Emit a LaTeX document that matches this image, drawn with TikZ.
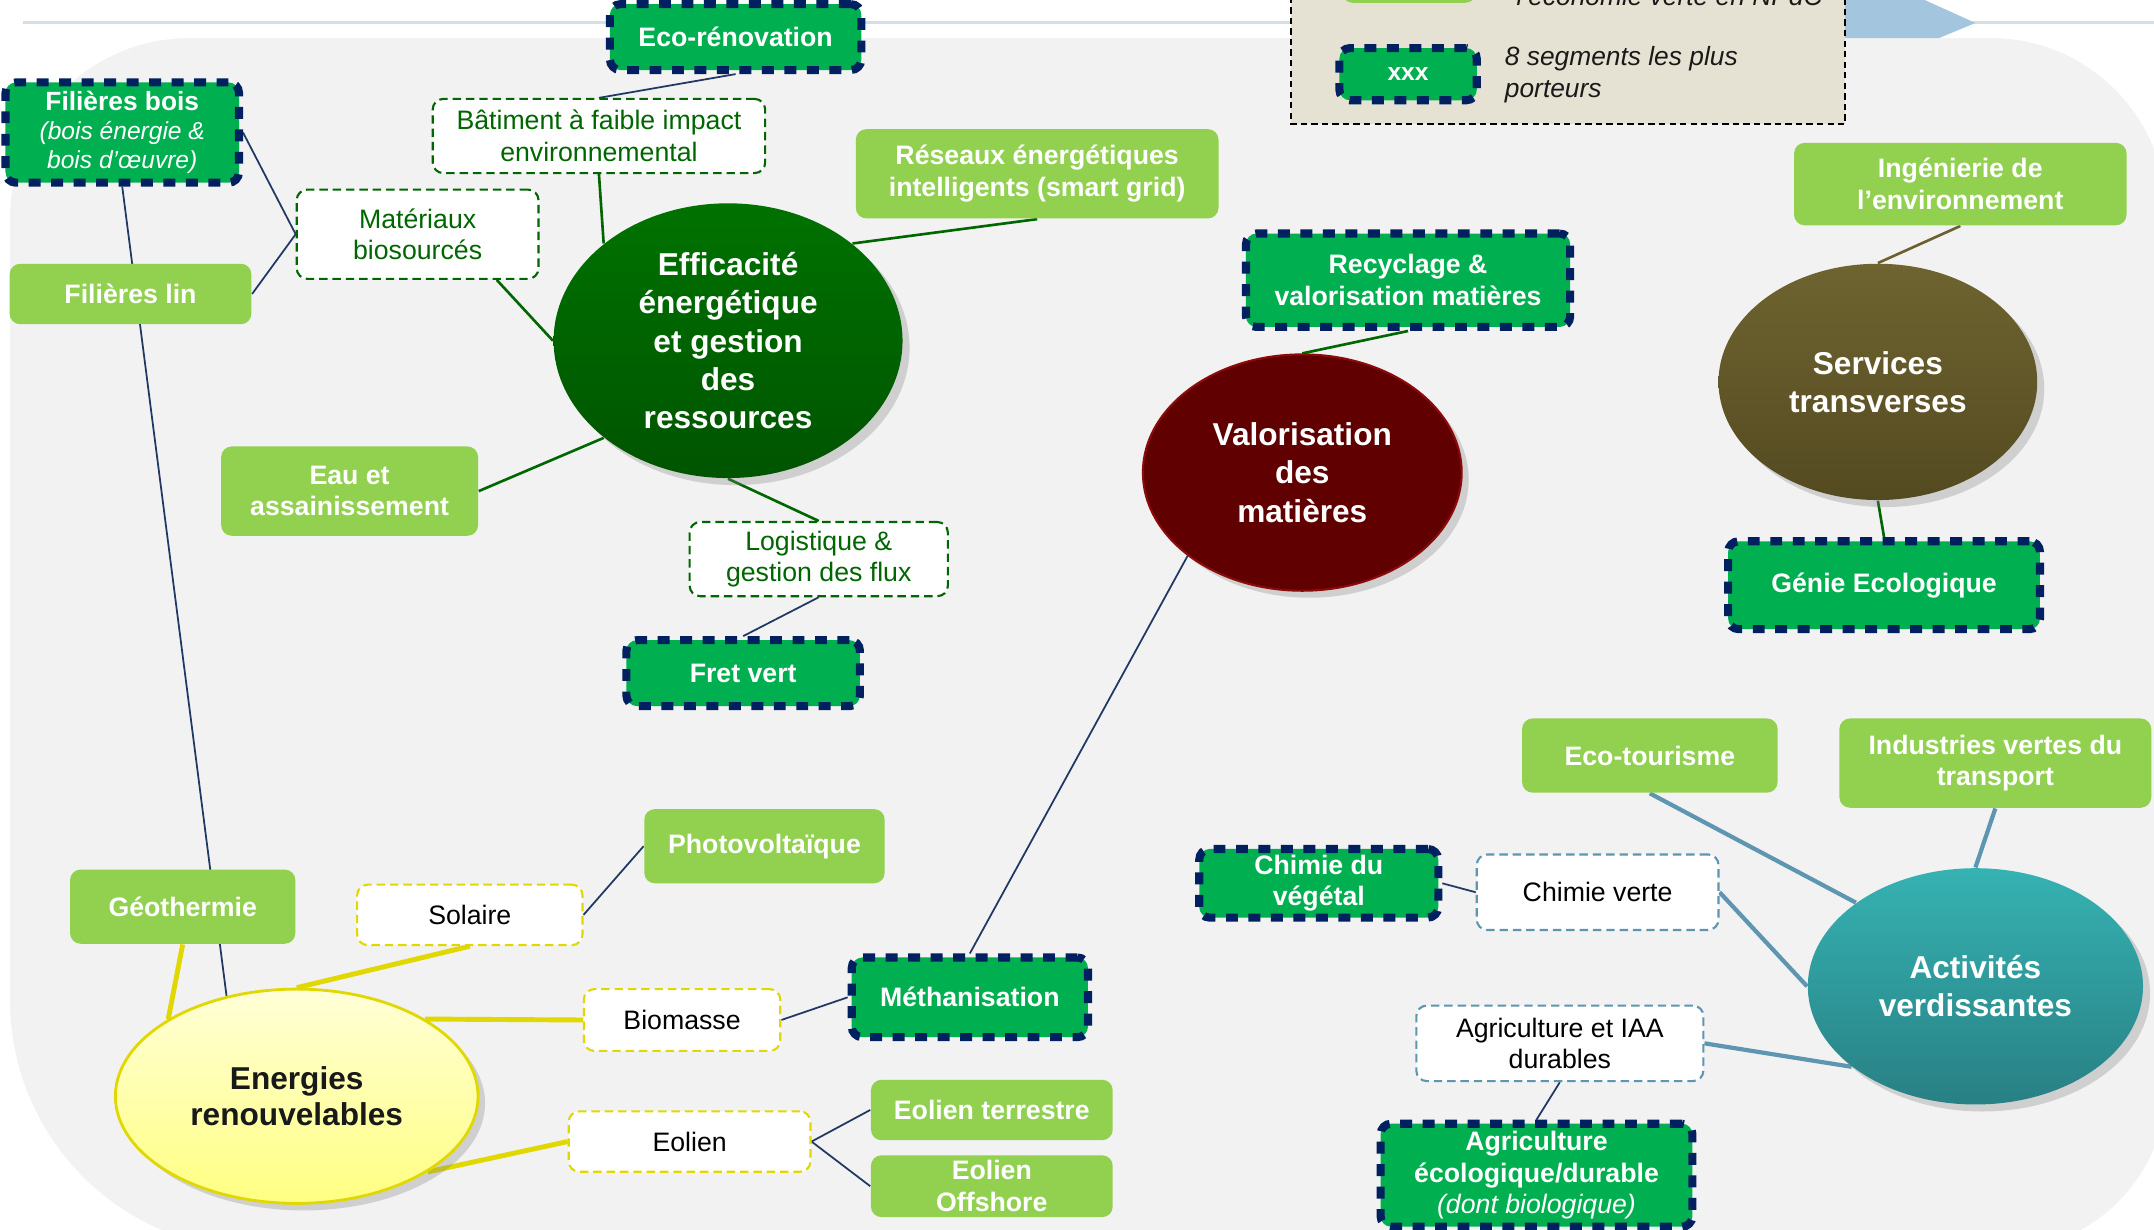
\documentclass[tikz,border=0pt]{standalone}
\usepackage{fontspec}
\setmainfont{Liberation Sans}
\usetikzlibrary{shapes.geometric,shadows}

\definecolor{bggray}{RGB}{242,242,242}
\definecolor{rulegray}{RGB}{212,223,232}
\definecolor{arrowblue}{RGB}{164,197,222}
\definecolor{legendbeige}{RGB}{230,226,211}
\definecolor{ltgreen}{RGB}{146,208,80}
\definecolor{dkgreen}{RGB}{0,176,80}
\definecolor{navy}{RGB}{0,32,96}
\definecolor{linknavy}{RGB}{31,56,100}
\definecolor{forest}{RGB}{0,102,0}
\definecolor{sunyellow}{RGB}{224,216,0}
\definecolor{steelteal}{RGB}{94,150,178}
\definecolor{oliveline}{RGB}{107,96,48}
\definecolor{effictop}{RGB}{0,114,0}
\definecolor{efficbot}{RGB}{0,84,0}
\definecolor{valorfill}{RGB}{96,0,0}
\definecolor{valordraw}{RGB}{140,10,10}
\definecolor{servtop}{RGB}{110,100,48}
\definecolor{servbot}{RGB}{84,74,33}
\definecolor{activtop}{RGB}{54,178,178}
\definecolor{activbot}{RGB}{40,128,132}
\definecolor{enrtop}{RGB}{255,255,215}
\definecolor{enrbot}{RGB}{255,255,130}

\def\ux{0.01375cm}

\pgfdeclarelayer{backdrop}
\pgfdeclarelayer{links}
\pgfsetlayers{backdrop,links,main}

\tikzset{
	sz/.style 2 args={minimum width=#1*\ux, minimum height=#2*\ux},
	lgbox/.style={rectangle, rounded corners=3pt, fill=ltgreen, text=white, inner sep=0pt,
		font=\bfseries\fontsize{7.6}{9}\selectfont, align=center},
	keybox/.style={rectangle, rounded corners=3pt, fill=dkgreen, draw=navy, line width=2.3pt,
		dash pattern=on 3.4pt off 3pt, text=white, inner sep=0pt,
		font=\bfseries\fontsize{7.6}{9}\selectfont, align=center},
	subbox/.style={rectangle, rounded corners=3pt, fill=white, line width=0.6pt,
		dash pattern=on 2.4pt off 1.4pt, inner sep=0pt,
		font=\fontsize{7.6}{9}\selectfont, align=center},
	effsub/.style={subbox, draw=forest, text=forest},
	enrsub/.style={subbox, draw=sunyellow, text=black},
	actsub/.style={subbox, draw=steelteal, text=black},
	pole/.style={ellipse, inner sep=0pt, text=white, align=center,
		font=\bfseries\fontsize{9}{10.9}\selectfont,
		drop shadow={opacity=0.3, shadow xshift=2pt, shadow yshift=-2pt}},
	navylink/.style={draw=linknavy, line width=0.5pt},
	forestlink/.style={draw=forest, line width=0.75pt},
	olivelink/.style={draw=oliveline, line width=0.75pt},
	sunlink/.style={draw=sunyellow, line width=1.4pt},
	teallink/.style={draw=steelteal, line width=1.2pt},
}

\begin{document}
\begin{tikzpicture}[x=\ux, y=-\ux]
	%%%%% START %%%%%
	\useasboundingbox (0,0) rectangle (1568,895);
	
	\begin{pgfonlayer}{backdrop}
		\fill[white] (0,0) rectangle (1568,895);
		% grey panel
		\fill[bggray] (7.3,728) -- (7.3,158.7) arc[start angle=180, end angle=90, radius=131*\ux]
			-- (1449,27.7) arc[start angle=90, end angle=0, radius=128*\ux]
			-- (1577,790) arc[start angle=0, end angle=-90, radius=120*\ux]
			-- (189.3,910) arc[start angle=-90, end angle=-180, radius=182*\ux] -- cycle;
		\draw[rulegray, line width=0.85pt] (17,16.5) -- (1568,16.5);
		\fill[arrowblue] (1300,-5) -- (1390,-5) -- (1438,16.7) -- (1411.5,27.7) -- (1300,27.7) -- cycle;
		% legend
		\draw[fill=legendbeige, line width=0.5pt, dash pattern=on 1.8pt off 1.2pt] (940,-10) rectangle (1343,90.5);
		\fill[ltgreen, rounded corners=3pt] (977,-40) rectangle (1074.5,2);
	\end{pgfonlayer}
	
	\node[anchor=base west, font=\itshape\fontsize{7.5}{9}\selectfont, text=black!90] (legtop) at (1095,4) {l’économie verte en NPdC};
	\node[keybox, sz={100}{38}, font=\bfseries\fontsize{7}{8}\selectfont] (legkey) at (1025,54) {xxx};
	\node[anchor=west, font=\itshape\fontsize{7.5}{9.2}\selectfont, text=black!90, align=left, inner sep=0pt] (legtxt) at (1095,54.5) {8 segments les plus\\porteurs};
	
	% poles
	\node[pole, sz={254}{200}, top color=effictop, bottom color=efficbot] (effic) at (530,248) {Efficacité\\énergétique\\et gestion\\des\\ressources};
	\node[pole, sz={232}{172}, fill=valorfill, draw=valordraw, line width=0.6pt] (valor) at (948,344) {Valorisation\\des\\matières};
	\node[pole, sz={232}{172}, top color=servtop, bottom color=servbot] (services) at (1367,278) {Services\\transverses};
	\node[pole, sz={244}{172}, top color=activtop, bottom color=activbot] (activ) at (1438,718) {Activités\\verdissantes};
	\node[pole, sz={264}{156}, top color=enrtop, bottom color=enrbot, draw=sunyellow, line width=0.8pt, text=black!90, font=\bfseries\fontsize{9}{10.5}\selectfont] (enr) at (216,798) {Energies\\renouvelables};
	
	% key segments
	\node[keybox, sz={183}{48}] (ecoreno) at (535.5,27) {Eco-rénovation};
	\node[keybox, sz={170}{73}, font=\fontsize{7}{8.2}\selectfont] (filbois) at (89,96.5) {{\bfseries\fontsize{7.5}{8.2}\selectfont Filières bois}\\{\itshape (bois énergie \&}\\{\itshape bois d’œuvre)}};
	\node[keybox, sz={236}{68}] (recyc) at (1025,204) {Recyclage \&\\valorisation matières};
	\node[keybox, sz={170}{48}] (fret) at (541,490) {Fret vert};
	\node[keybox, sz={227}{64}] (genie) at (1371.5,426) {Génie Ecologique};
	\node[keybox, sz={172}{58}] (methan) at (706,726) {Méthanisation};
	\node[keybox, sz={174}{50}] (chimveg) at (960,643) {Chimie du\\végétal};
	\node[keybox, sz={227}{75}] (agrieco) at (1118.5,855.5) {Agriculture\\écologique/durable\\{\mdseries\itshape (dont biologique)}};
	
	% other segments
	\node[lgbox, sz={264}{65}] (reseaux) at (755,126.5) {Réseaux énergétiques\\intelligents (smart grid)};
	\node[lgbox, sz={176}{44}] (filin) at (95,214) {Filières lin};
	\node[lgbox, sz={187}{65}] (eau) at (254.5,357.5) {Eau et\\assainissement};
	\node[lgbox, sz={242}{60}] (ingen) at (1427,134) {Ingénierie de\\l’environnement};
	\node[lgbox, sz={175}{54}] (photo) at (556.5,616) {Photovoltaïque};
	\node[lgbox, sz={164}{54}] (geo) at (133,660) {Géothermie};
	\node[lgbox, sz={186}{54}] (ecotour) at (1201,550) {Eco-tourisme};
	\node[lgbox, sz={227}{65}] (indus) at (1452.5,555.5) {Industries vertes du\\transport};
	\node[lgbox, sz={176}{44}] (eolterr) at (722,808) {Eolien terrestre};
	\node[lgbox, sz={176}{45}] (eoloff) at (722,863.5) {Eolien\\Offshore};
	
	% sub-families
	\node[effsub, sz={242}{54}] (batiment) at (436,99) {Bâtiment à faible impact\\environnemental};
	\node[effsub, sz={176}{65}] (materiaux) at (304,170.5) {Matériaux\\biosourcés};
	\node[effsub, sz={188}{54}] (logist) at (596,407) {Logistique \&\\gestion des flux};
	\node[enrsub, sz={164}{44}] (solaire) at (342,666) {Solaire};
	\node[enrsub, sz={143}{45}] (biomasse) at (496.5,742.5) {Biomasse};
	\node[enrsub, sz={176}{44}] (eolien) at (502,831) {Eolien};
	\node[actsub, sz={176}{55}] (chimverte) at (1163,649.5) {Chimie verte};
	\node[actsub, sz={209}{55}] (agriiaa) at (1135.5,759.5) {Agriculture et IAA\\durables};
	
	\begin{pgfonlayer}{links}
		\draw[navylink] (ecoreno.south) -- (batiment.north);
		\draw[navylink] (filbois.east) -- (materiaux.west);
		\draw[navylink] (filin.east) -- (materiaux.west);
		\draw[navylink] (filbois.south) -- (enr.125);
		\draw[navylink] (solaire.east) -- (photo.west);
		\draw[navylink] (biomasse.east) -- (methan.west);
		\draw[navylink] (eolien.east) -- (eolterr.west);
		\draw[navylink] (eolien.east) -- (eoloff.west);
		\draw[navylink] (valor.216) -- (methan.north);
		\draw[navylink] (logist.south) -- (fret.north);
		\draw[navylink] (chimveg.east) -- (chimverte.west);
		\draw[navylink] (agriiaa.south) -- (agrieco.north);
		
		\draw[forestlink] (batiment.south) -- (effic.142);
		\draw[forestlink] (materiaux.-30) -- (effic.180);
		\draw[forestlink] (reseaux.south) -- (effic.38);
		\draw[forestlink] (eau.east) -- (effic.218);
		\draw[forestlink] (effic.south) -- (logist.north);
		\draw[forestlink] (recyc.south) -- (valor.north);
		\draw[forestlink] (services.south) -- (genie.north);
		\draw[olivelink] (ingen.south) -- (services.north);
		
		\draw[sunlink] (geo.south) -- (enr.149);
		\draw[sunlink] (solaire.south) -- (enr.north);
		\draw[sunlink] (biomasse.west) -- (enr.31);
		\draw[sunlink] (eolien.west) -- (enr.-30);
		
		\draw[teallink] (ecotour.south) -- (activ.145);
		\draw[teallink] (indus.south) -- (activ.north);
		\draw[teallink] (chimverte.east) -- (activ.180);
		\draw[teallink] (agriiaa.east) -- (activ.213);
	\end{pgfonlayer}
	%%%%% END %%%%%
\end{tikzpicture}
\end{document}
